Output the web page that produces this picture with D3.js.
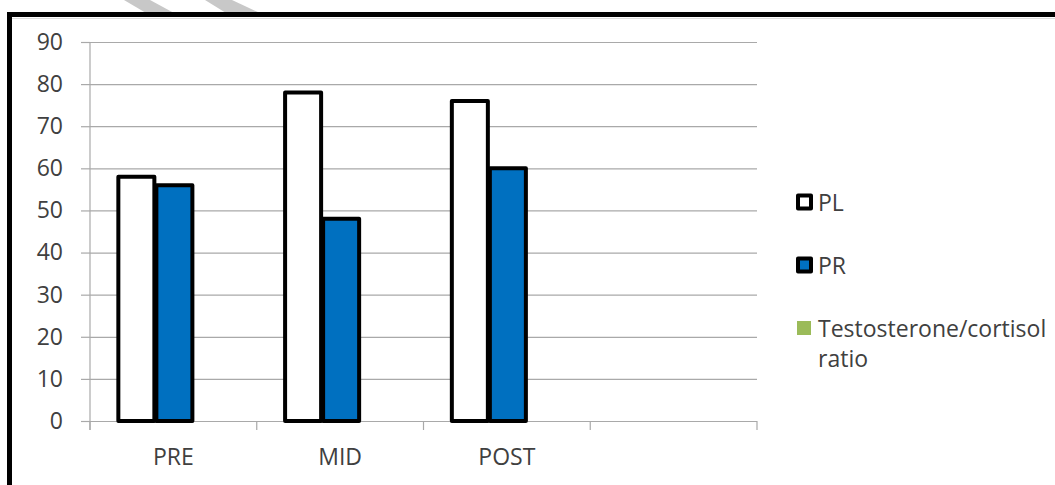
<!DOCTYPE html>
<html>
<head>
<meta charset="utf-8">
<script src="https://cdn.jsdelivr.net/npm/d3@7/dist/d3.min.js"></script>
<style>
  html, body { margin: 0; padding: 0; background: #fff; }
  svg { display: block; }
  text { font-family: "Open Sans", sans-serif; fill: #404040; }
</style>
</head>
<body>
<div id="chart"></div>
<script>
const categories = ["PRE", "MID", "POST", ""];
const seriesNames = ["PL", "PR", "Testosterone/cortisol ratio"];
const plValues = [58, 78, 76, null];
const prValues = [56, 48, 60, null];
const ratioValues = [null, null, null, null];
const yTicks = [0, 10, 20, 30, 40, 50, 60, 70, 80, 90];

(function () {
const W = 1055, H = 485;
const svg = d3.select("#chart").append("svg").attr("width", W).attr("height", H);

// watermark fragments
svg.append("polygon").attr("points", "124,0 150,0 174,13 146,13").attr("fill", "#c8c8c8");
svg.append("polygon").attr("points", "205,0 232,0 260,13 226,13").attr("fill", "#c8c8c8");

// chart frame
svg.append("line").attr("x1", 12).attr("x2", W).attr("y1", 18.5).attr("y2", 18.5).attr("stroke", "#dcdcdc").attr("stroke-width", 1);
svg.append("rect").attr("x", 9.5).attr("y", 14.5).attr("width", 1200).attr("height", 600)
  .attr("fill", "none").attr("stroke", "#000").attr("stroke-width", 5);

const pLeft = 90, pRight = 757, pTop = 42, pBottom = 421;
const y = d3.scaleLinear().domain([0, 90]).range([pBottom, pTop]);
const x0 = d3.scaleBand().domain(d3.range(categories.length)).range([pLeft, pRight])
  .paddingInner(0.316).paddingOuter(0.158);
const x1 = d3.scaleBand().domain(d3.range(seriesNames.length)).range([0, x0.bandwidth()]);

const series = [
  { name: seriesNames[0], values: plValues, fill: "#ffffff" },
  { name: seriesNames[1], values: prValues, fill: "#0070c0" },
  { name: seriesNames[2], values: ratioValues, fill: "#9bbb59" }
];

// gridlines
const grid = svg.append("g").attr("transform", `translate(${pLeft},0)`)
  .call(d3.axisLeft(y).tickValues(yTicks).tickSize(-(pRight - pLeft)).tickFormat(""));
grid.select(".domain").remove();
grid.selectAll("line").attr("stroke", "#a9a9a9").attr("stroke-width", 1.2);

// y axis ticks + labels
const yAxis = svg.append("g").attr("transform", `translate(${pLeft},0)`)
  .call(d3.axisLeft(y).tickValues(yTicks).tickSize(9).tickPadding(18));
yAxis.select(".domain").remove();
yAxis.selectAll("line").attr("stroke", "#a9a9a9").attr("stroke-width", 1.2);
yAxis.selectAll("text").style("font-size", "23px").attr("fill", "#404040")
  .style("font-family", '"Open Sans", sans-serif');

// y axis line
svg.append("line").attr("x1", pLeft).attr("x2", pLeft).attr("y1", pTop).attr("y2", pBottom + 9)
  .attr("stroke", "#a9a9a9").attr("stroke-width", 1.2);

// category boundary ticks
const step = x0.step();
svg.append("g").selectAll("line").data(d3.range(categories.length + 1)).join("line")
  .attr("x1", i => pLeft + i * step).attr("x2", i => pLeft + i * step)
  .attr("y1", pBottom).attr("y2", pBottom + 9)
  .attr("stroke", "#a9a9a9").attr("stroke-width", 1.2);

// bars
const groups = svg.append("g").selectAll("g").data(categories.map((c, i) => i)).join("g")
  .attr("transform", i => `translate(${x0(i)},0)`);
groups.selectAll("rect")
  .data(i => series.map((s, si) => ({ si, v: s.values[i], fill: s.fill })).filter(d => d.v != null))
  .join("rect")
  .attr("x", d => x1(d.si) + 2)
  .attr("width", x1.bandwidth() - 2)
  .attr("y", d => y(d.v))
  .attr("height", d => y(0) - y(d.v))
  .attr("fill", d => d.fill)
  .attr("stroke", "#000").attr("stroke-width", 4).attr("stroke-linejoin", "round");

// category labels
svg.append("g").selectAll("text").data(categories.map((c, i) => i)).join("text")
  .attr("x", i => x0(i) + x0.bandwidth() / 2)
  .attr("y", 456)
  .attr("text-anchor", "middle").attr("dominant-baseline", "central")
  .style("font-size", "23px")
  .text(i => categories[i]);

// legend
const legendY = [202, 265, 328];
const lg = svg.append("g");
series.forEach((s, i) => {
  if (i < 2) {
    lg.append("rect").attr("x", 798).attr("y", legendY[i] - 6.5).attr("width", 13).attr("height", 13)
      .attr("fill", s.fill).attr("stroke", "#000").attr("stroke-width", 4).attr("stroke-linejoin", "round");
  } else {
    lg.append("rect").attr("x", 797).attr("y", legendY[i] - 7).attr("width", 14).attr("height", 14)
      .attr("fill", s.fill);
  }
});
lg.append("text").attr("x", 818).attr("y", legendY[0]).attr("dominant-baseline", "central")
  .style("font-size", "23px").text(seriesNames[0]);
lg.append("text").attr("x", 818).attr("y", legendY[1]).attr("dominant-baseline", "central")
  .style("font-size", "23px").text(seriesNames[1]);
const t3 = lg.append("text").attr("x", 818).attr("y", legendY[2]).attr("dominant-baseline", "central")
  .style("font-size", "23px");
const words = seriesNames[2].split(" ");
t3.append("tspan").attr("x", 818).text(words[0]);
t3.append("tspan").attr("x", 818).attr("dy", 30).text(words.slice(1).join(" "));
})();
</script>
</body>
</html>
